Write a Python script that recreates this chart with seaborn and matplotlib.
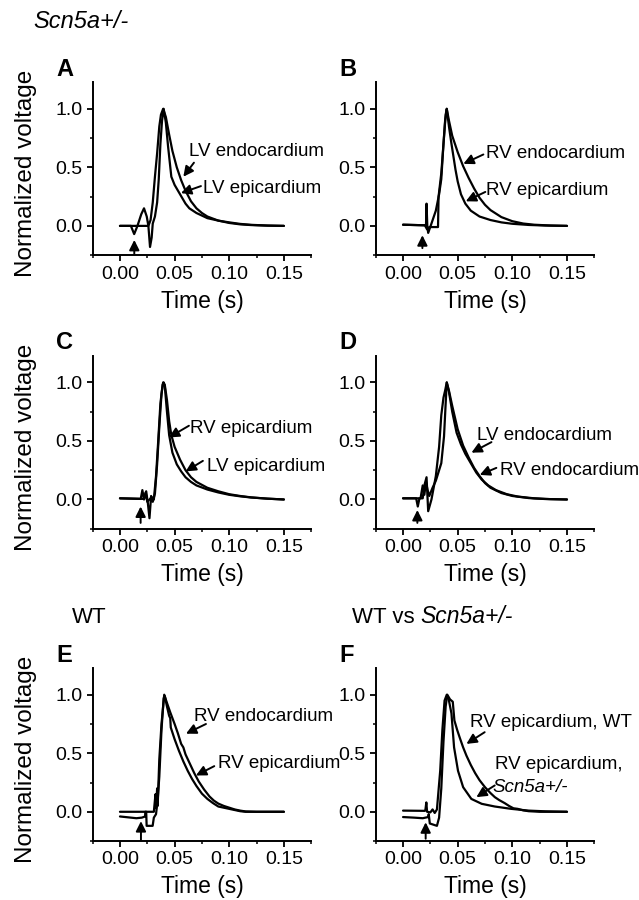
import numpy as np
import pandas as pd
import seaborn as sns
import matplotlib.pyplot as plt
from matplotlib.ticker import MultipleLocator

# A: LV endo vs LV epi (Scn5a+/-)
a_endo_t = [0, 0.010, 0.013, 0.016, 0.0195, 0.022, 0.0245, 0.026, 0.028, 0.030, 0.032, 0.034, 0.036, 0.0375, 0.0395,
            0.042, 0.045, 0.048, 0.052, 0.056, 0.060, 0.065, 0.070, 0.075, 0.080, 0.090, 0.100, 0.110, 0.120, 0.135, 0.150]
a_endo_v = [0, 0, -0.07, 0, 0.10, 0.15, 0.08, 0.0, 0.05, 0.20, 0.42, 0.62, 0.85, 0.95, 1.0,
            0.93, 0.78, 0.64, 0.50, 0.39, 0.30, 0.21, 0.15, 0.11, 0.08, 0.045, 0.025, 0.013, 0.007, 0.002, 0.0]
a_epi_t = [0, 0.026, 0.0275, 0.029, 0.030, 0.032, 0.034, 0.0355, 0.037, 0.0385, 0.040, 0.042, 0.044, 0.047, 0.050,
           0.0553, 0.060, 0.0635, 0.070, 0.080, 0.090, 0.100, 0.110, 0.120, 0.135, 0.150]
a_epi_v = [0, 0, -0.18, -0.10, 0.02, 0.08, 0.20, 0.40, 0.70, 0.90, 1.0, 0.88, 0.68, 0.42, 0.35,
           0.265, 0.19, 0.15, 0.11, 0.066, 0.045, 0.03, 0.017, 0.009, 0.003, 0.0]

# B: RV endo vs RV epi (Scn5a+/-)
b_endo_t = [0, 0.020, 0.022, 0.024, 0.032, 0.0325, 0.035, 0.037, 0.0385, 0.040, 0.042, 0.045, 0.050, 0.055, 0.060,
            0.065, 0.070, 0.075, 0.080, 0.090, 0.100, 0.110, 0.120, 0.135, 0.150]
b_endo_v = [0.01, 0.005, -0.03, -0.01, -0.01, 0.25, 0.45, 0.70, 0.90, 1.0, 0.90, 0.77, 0.63, 0.51, 0.41,
            0.32, 0.24, 0.18, 0.135, 0.075, 0.04, 0.02, 0.01, 0.003, 0.0]
b_epi_t = [0, 0.020, 0.0210, 0.0215, 0.0222, 0.023, 0.026, 0.030, 0.033, 0.035, 0.037, 0.039, 0.040, 0.042, 0.044,
           0.046, 0.048, 0.050, 0.053, 0.057, 0.062, 0.070, 0.080, 0.090, 0.100, 0.115, 0.130, 0.150]
b_epi_v = [0.01, 0.005, 0.0, 0.19, 0.0, -0.06, 0.02, 0.13, 0.27, 0.40, 0.70, 0.95, 1.0, 0.85, 0.72,
           0.60, 0.48, 0.38, 0.27, 0.19, 0.13, 0.08, 0.05, 0.03, 0.018, 0.008, 0.003, 0.0]

# C: RV epi vs LV epi (Scn5a+/-)
c_rv_t = [0, 0.019, 0.0205, 0.022, 0.0235, 0.025, 0.027, 0.029, 0.031, 0.033, 0.035, 0.037, 0.039, 0.040, 0.041,
          0.043, 0.045, 0.048, 0.052, 0.056, 0.060, 0.065, 0.070, 0.080, 0.090, 0.100, 0.110, 0.120, 0.135, 0.150]
c_rv_v = [0.01, 0.005, 0.08, 0.0, 0.06, -0.02, 0.0, 0.02, 0.0, 0.20, 0.50, 0.82, 0.98, 1.0, 0.97,
          0.75, 0.55, 0.40, 0.30, 0.24, 0.19, 0.15, 0.12, 0.085, 0.06, 0.04, 0.027, 0.017, 0.007, 0.0]
c_lv_t = [0, 0.022, 0.024, 0.0255, 0.027, 0.0285, 0.030, 0.032, 0.034, 0.036, 0.038, 0.0395, 0.041, 0.043, 0.045,
          0.047, 0.050, 0.055, 0.060, 0.065, 0.070, 0.080, 0.090, 0.100, 0.110, 0.120, 0.135, 0.150]
c_lv_v = [0.01, 0.005, 0.07, -0.03, -0.16, 0.03, -0.02, 0.05, 0.30, 0.62, 0.90, 1.0, 0.98, 0.85, 0.67,
          0.55, 0.45, 0.34, 0.25, 0.19, 0.15, 0.10, 0.07, 0.045, 0.03, 0.018, 0.007, 0.0]

# D: LV endo vs RV endo (Scn5a+/-)
d_lv_t = [0, 0.012, 0.0135, 0.015, 0.018, 0.0195, 0.0215, 0.023, 0.026, 0.030, 0.033, 0.035, 0.037, 0.0385, 0.040,
          0.042, 0.045, 0.049, 0.053, 0.057, 0.062, 0.067, 0.072, 0.078, 0.085, 0.095, 0.105, 0.120, 0.135, 0.150]
d_lv_v = [0.01, 0.01, -0.06, 0.01, 0.01, 0.12, 0.19, -0.10, 0.0, 0.20, 0.45, 0.72, 0.87, 0.93, 1.0,
          0.92, 0.75, 0.57, 0.47, 0.39, 0.31, 0.23, 0.17, 0.12, 0.08, 0.045, 0.025, 0.01, 0.003, 0.0]
d_rv_t = [0, 0.016, 0.018, 0.0195, 0.021, 0.0225, 0.024, 0.027, 0.030, 0.035, 0.0375, 0.039, 0.040, 0.042, 0.045,
          0.050, 0.055, 0.060, 0.065, 0.070, 0.075, 0.080, 0.090, 0.100, 0.115, 0.130, 0.150]
d_rv_v = [0.01, 0.01, 0.12, 0.04, 0.15, 0.08, 0.03, 0.10, 0.16, 0.31, 0.54, 0.82, 1.0, 0.93, 0.80,
          0.60, 0.46, 0.36, 0.27, 0.20, 0.14, 0.10, 0.055, 0.03, 0.012, 0.004, 0.0]

# E: RV endo vs RV epi (WT)
e_endo_t = [0, 0.031, 0.0325, 0.033, 0.034, 0.0345, 0.036, 0.038, 0.0405, 0.043, 0.046, 0.050, 0.053, 0.056, 0.058,
            0.060, 0.064, 0.068, 0.072, 0.077, 0.082, 0.086, 0.090, 0.095, 0.100, 0.105, 0.110, 0.115, 0.125, 0.150]
e_endo_v = [0, 0, 0.15, 0.03, 0.20, 0.05, 0.45, 0.75, 1.0, 0.93, 0.85, 0.75, 0.67, 0.58, 0.55,
            0.49, 0.41, 0.33, 0.26, 0.19, 0.13, 0.095, 0.07, 0.05, 0.035, 0.02, 0.01, 0.003, 0.0, 0.0]
e_epi_t = [0, 0.010, 0.015, 0.020, 0.0230, 0.0232, 0.0240, 0.0244, 0.0299, 0.031, 0.033, 0.0345, 0.036, 0.038, 0.040,
           0.041, 0.043, 0.045, 0.046, 0.0465, 0.050, 0.054, 0.058, 0.062, 0.066, 0.070, 0.075, 0.080, 0.085, 0.090,
           0.095, 0.100, 0.105, 0.110, 0.115, 0.150]
e_epi_v = [-0.04, -0.05, -0.055, -0.05, -0.04, 0.0, 0.0, -0.12, -0.12, -0.05, -0.02, 0.10, 0.30, 0.70, 0.97,
           0.99, 0.90, 0.82, 0.80, 0.72, 0.62, 0.52, 0.43, 0.35, 0.28, 0.22, 0.155, 0.11, 0.075, 0.045,
           0.035, 0.025, 0.015, 0.005, 0.0, 0.0]

# F: RV epi WT vs RV epi Scn5a+/-
f_wt_t = [0, 0.010, 0.018, 0.023, 0.0235, 0.0245, 0.031, 0.033, 0.035, 0.037, 0.039, 0.0405, 0.043, 0.0455, 0.047,
          0.0495, 0.052, 0.055, 0.058, 0.062, 0.066, 0.070, 0.075, 0.080, 0.084, 0.088, 0.093, 0.097, 0.101, 0.105,
          0.110, 0.115, 0.125, 0.150]
f_wt_v = [-0.045, -0.05, -0.055, -0.045, -0.02, -0.10, -0.12, -0.05, 0.20, 0.60, 0.90, 1.0, 0.96, 0.94, 0.78,
          0.70, 0.63, 0.55, 0.48, 0.40, 0.33, 0.27, 0.21, 0.16, 0.125, 0.10, 0.074, 0.05, 0.03, 0.025,
          0.012, 0.005, 0.0, 0.0]
f_scn_t = [0, 0.020, 0.0205, 0.0213, 0.022, 0.025, 0.027, 0.029, 0.031, 0.034, 0.036, 0.038, 0.040, 0.042, 0.0443,
           0.0467, 0.0503, 0.055, 0.0625, 0.072, 0.084, 0.099, 0.115, 0.130, 0.150]
f_scn_v = [0.01, 0.008, 0.02, 0.08, 0.0, -0.005, 0.02, -0.01, 0.02, 0.35, 0.70, 0.95, 1.0, 0.95, 0.84,
           0.55, 0.35, 0.21, 0.11, 0.068, 0.045, 0.025, 0.01, 0.004, 0.0]

# Flechas de estimulo: (t, punta, cola)
stim = {'A': (0.0131, -0.12, -0.24), 'B': (0.0177, -0.08, -0.19), 'C': (0.0189, -0.06, -0.20),
        'D': (0.0131, -0.09, -0.20), 'E': (0.0192, -0.08, -0.24), 'F': (0.0207, -0.09, -0.23)}

# Etiquetas: (texto, pos texto, punta flecha, cola flecha)
labels = {
    'A': [('LV endocardium', (0.0635, 0.635), (0.058, 0.42), (0.0677, 0.54)),
          ('LV epicardium', (0.0757, 0.32), (0.0558, 0.28), (0.0741, 0.34))],
    'B': [('RV endocardium', (0.0757, 0.62), (0.0552, 0.53), (0.0735, 0.61)),
          ('RV epicardium', (0.0757, 0.306), (0.0574, 0.21), (0.0753, 0.29))],
    'C': [('RV epicardium', (0.0637, 0.61), (0.0448, 0.53), (0.0631, 0.63)),
          ('LV epicardium', (0.0799, 0.285), (0.0601, 0.24), (0.0759, 0.33))],
    'D': [('LV endocardium', (0.0678, 0.55), (0.0626, 0.40), (0.0809, 0.49)),
          ('RV endocardium', (0.0885, 0.25), (0.0702, 0.21), (0.0854, 0.27))],
    'E': [('RV endocardium', (0.0674, 0.816), (0.0604, 0.667), (0.0787, 0.75)),
          ('RV epicardium', (0.0894, 0.41), (0.0695, 0.31), (0.0863, 0.39))],
    'F': [('RV epicardium, WT', (0.061, 0.766), (0.058, 0.58), (0.0747, 0.68)),
          ('RV epicardium,', (0.0845, 0.40), (0.0671, 0.125), (0.0839, 0.225))],
}

traces = {
    'A': [(a_endo_t, a_endo_v), (a_epi_t, a_epi_v)],
    'B': [(b_endo_t, b_endo_v), (b_epi_t, b_epi_v)],
    'C': [(c_rv_t, c_rv_v), (c_lv_t, c_lv_v)],
    'D': [(d_lv_t, d_lv_v), (d_rv_t, d_rv_v)],
    'E': [(e_endo_t, e_endo_v), (e_epi_t, e_epi_v)],
    'F': [(f_wt_t, f_wt_v), (f_scn_t, f_scn_v)],
}

sns.set_style('ticks')
plt.rcParams['font.family'] = ['Liberation Sans', 'DejaVu Sans']
for k in ['text.color', 'axes.labelcolor', 'xtick.color', 'ytick.color', 'axes.edgecolor']:
    plt.rcParams[k] = 'black'

fig = plt.figure(figsize=(6.39, 9.0), dpi=100)

pos = {'A': (0.145, 0.7165), 'B': (0.588, 0.7165), 'C': (0.145, 0.4125),
       'D': (0.588, 0.4125), 'E': (0.145, 0.0655), 'F': (0.588, 0.0655)}

arrow_kw = dict(arrowstyle='-|>,head_length=0.6,head_width=0.3', color='black', lw=1.4,
                mutation_scale=10, shrinkA=0, shrinkB=0)

for key in 'ABCDEF':
    ax = fig.add_axes([pos[key][0], pos[key][1], 0.342, 0.1925])
    for t, v in traces[key]:
        df = pd.DataFrame({'t': t, 'v': v})
        sns.lineplot(data=df, x='t', y='v', ax=ax, color='black', lw=1.6,
                     estimator=None, sort=False)
    ax.set_xlim(-0.025, 0.175)
    ax.set_ylim(-0.25, 1.23)
    ax.xaxis.set_minor_locator(MultipleLocator(0.025))
    ax.yaxis.set_minor_locator(MultipleLocator(0.25))
    ax.set_xticks([0, 0.05, 0.10, 0.15])
    ax.set_xticklabels(['0.00', '0.05', '0.10', '0.15'])
    ax.set_yticks([0, 0.5, 1.0])
    ax.set_yticklabels(['0.0', '0.5', '1.0'])
    ax.tick_params(which='major', length=4, width=1.3, labelsize=14, direction='out')
    ax.tick_params(which='minor', length=2.5, width=1.1, direction='out')
    sns.despine(ax=ax)
    for s in ['left', 'bottom']:
        ax.spines[s].set_linewidth(1.4)
    ax.set_xlabel('Time (s)', fontsize=16.5, labelpad=5)
    if key in 'ACE':
        ax.set_ylabel('Normalized voltage', fontsize=17.5)
        ax.yaxis.set_label_coords(-0.255, 0.47)
    else:
        ax.set_ylabel('')
    ax.text(-0.167, 1.035, key, transform=ax.transAxes, fontsize=17, fontweight='bold',
            ha='left', va='baseline')

    ts, tip, tail = stim[key]
    ax.annotate('', xy=(ts, tip), xytext=(ts, tail), arrowprops=arrow_kw, annotation_clip=False)
    for txt, tpos, atip, atail in labels[key]:
        ax.text(tpos[0], tpos[1], txt, fontsize=13.5, ha='left', va='center', clip_on=False)
        ax.annotate('', xy=atip, xytext=atail, arrowprops=arrow_kw, annotation_clip=False)
    if key == 'F':
        ax.text(0.0817, 0.21, 'Scn5a+/-', fontsize=13.5, style='italic', ha='left', va='center')

fig.text(33 / 639, 0.969, 'Scn5a+/-', fontsize=17, style='italic', ha='left', va='baseline')
fig.text(72 / 639, 0.308, 'WT', fontsize=16, ha='left', va='baseline')
fig.text(352 / 639, 0.308, 'WT vs', fontsize=16, ha='left', va='baseline')
fig.text(420 / 639, 0.308, 'Scn5a+/-', fontsize=16.5, style='italic', ha='left', va='baseline')

fig.savefig('out.png', dpi=100)
